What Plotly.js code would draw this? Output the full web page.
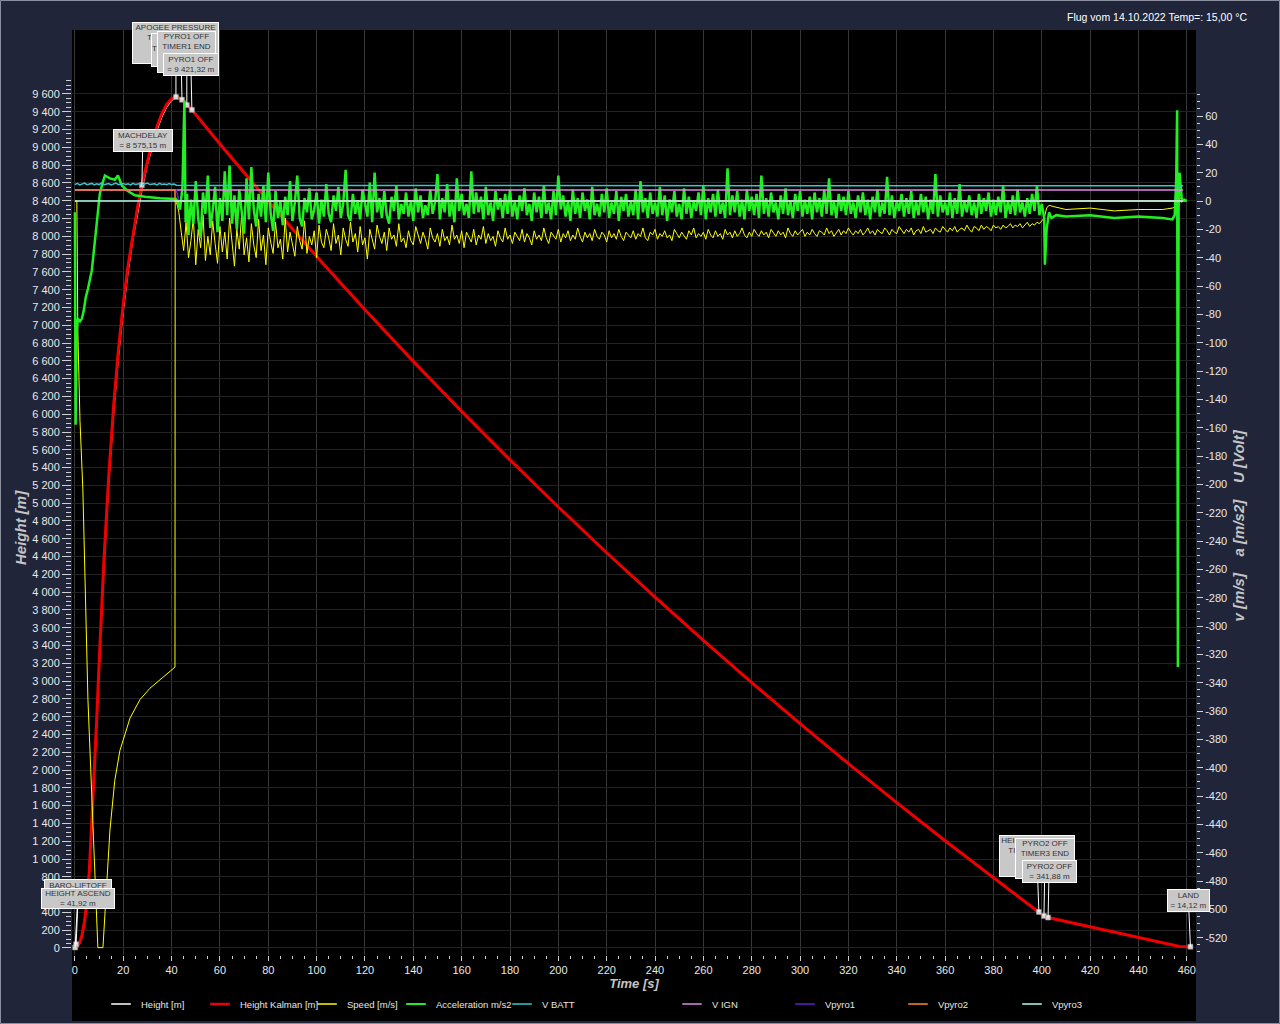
<!DOCTYPE html>
<html>
<head>
<meta charset="utf-8">
<script src="https://cdn.plot.ly/plotly-3.0.1.min.js"></script>
<style>
html,body{margin:0;padding:0;background:#20253a;}
#chart{width:1280px;height:1024px;}
</style>
</head>
<body>
<div id="chart"></div>
<script>
// ---------------- DATA ----------------
// Height (raw barometric) [m]
const heightT = [0,1,2,3,4,5,6,7,8,9,10,12,14,16,18,20,22,24,26,28,30,32,34,36,38,40,42,44,46,48,50,60,70,80,90,100,110,120,130,140,150,160,170,180,190,200,210,220,230,240,250,260,270,280,290,300,310,320,330,340,350,360,370,380,390,398,401,403,410,420,430,440,450,455,457,461];
const heightV = [0,10,50,140,290,520,860,1350,1900,2500,3150,4250,5210,5990,6630,7150,7590,7960,8270,8550,8800,9010,9190,9340,9450,9525,9560,9545,9490,9430,9372,9042,8710,8390,8088,7770,7478,7170,6885,6598,6308,6028,5760,5490,5218,4953,4702,4447,4190,3940,3702,3460,3218,2980,2752,2525,2295,2070,1852,1636,1418,1203,995,788,579,414,356,340,300,236,181,117,62,29,15,14];

// Height Kalman [m]
const kalmanT = [0,0.5,1,2,3,4,5,6,7,8,9,10,12,14,16,18,20,22,24,26,28,30,32,34,36,38,40,41.8,43,44.3,45.5,46.3,47.4,48.4,50,60,80,100,120,140,160,180,200,220,240,260,280,300,320,340,360,380,390,396,398.8,401,402.6,410,420,430,440,450,455,457,461.5];
const kalmanV = [0,6,15,60,150,300,540,880,1400,1950,2560,3190,4356,5306,6086,6721,7241,7671,8031,8341,8614,8854,9062,9238,9380,9484,9547,9566,9558,9535,9503,9475,9450,9421,9368,9037,8395,7774,7174,6594,6032,5487,4957,4443,3943,3457,2983,2522,2072,1633,1205,786,581,458,402,358,342,298,238,179,119,60,30,17,14];

// Speed [m/s] – boost/coast part
const speedT = [0,0.8,1.0,1.2,2.1,3.3,5.4,8.3,9.5,11.6,12.8,14.5,16.5,18.6,22.8,26.9,31,35.2,39.3,41.4,41.5,42,42.5];
const speedV = [0,0,-40,-91,-155,-204,-352,-479,-527,-527,-493,-444,-409,-388,-365,-352,-344,-338,-332,-329,0,-1,-4];
// Speed under drogue, 1 Hz samples from t = 43 s
const speedNoiseStart = 43;
const speedNoise = [
-8,-22,-35,-15,-40,-28,-12,-45,-20,-33,-10,-42,-25,-38,-14,-30,-44,-18,-36,-22,
-41,-12,-30,-46,-20,-34,-9,-38,-26,-43,-16,-31,-40,-13,-35,-24,-45,-19,-29,-37,
-15,-33,-27,-41,-12,-36,-22,-30,-39,-18,-28,-34,-14,-37,-25,-31,-21,-40,-17,-29,
-33,-20,-26,-35,-16,-30,-24,-38,-19,-27,-32,-15,-29,-23,-36,-18,-31,-26,-41,-20,
-28,-34,-17,-25,-30,-22,-35,-19,-27,-24,-32,-16,-29,-26,-33,-21,-28,-31,-18,-25,
-30,-22,-27,-34,-19,-26,-29,-23,-32,-20,-28,-25,-31,-17,-27,-24,-30,-21,-33,-22,
-26,-29,-20,-31,-24,-27,-18,-30,-23,-28,-25,-32,-21,-26,-29,-19,-27,-24,-30,-22,
-25,-28,-20,-29,-23,-26,-31,-21,-27,-24,-28,-19,-26,-30,-22,-25,-27,-20,-29,-23,
-26,-21,-28,-24,-27,-19,-25,-29,-22,-26,-23,-28,-20,-25,-27,-22,-24,-29,-21,-26,
-23,-27,-20,-25,-28,-22,-24,-26,-21,-27,-23,-25,-19,-26,-28,-22,-24,-20,-27,-23,
-25,-21,-26,-24,-28,-20,-23,-26,-22,-25,-27,-21,-24,-19,-26,-23,-25,-22,-27,-20,
-24,-26,-21,-25,-23,-27,-20,-24,-22,-26,-21,-25,-23,-19,-24,-26,-22,-25,-20,-23,
-25,-21,-24,-22,-26,-20,-23,-25,-21,-24,-22,-26,-19,-23,-25,-21,-24,-22,-20,-25,
-22,-24,-20,-23,-25,-21,-22,-24,-19,-23,-21,-25,-22,-20,-24,-21,-23,-19,-22,-24,
-21,-23,-20,-24,-22,-19,-23,-21,-24,-20,-22,-23,-19,-21,-24,-20,-22,-23,-18,-21,
-23,-20,-22,-19,-24,-21,-20,-23,-18,-22,-21,-20,-23,-19,-21,-22,-18,-20,-22,-19,
-21,-18,-22,-20,-19,-21,-17,-20,-22,-18,-19,-21,-17,-20,-18,-19,-21,-17,-19,-18,
-20,-17,-19,-18,-16,-19,-17,-18,-16,-19,-17,-15,-18,-16,-17,-15,-16,-14,-12
];
// Speed under main chute / landing
const speedPostT = [402,403,405,410,420,430,440,450,454,455.5,456.5,457.5,459,460];
const speedPostV = [-5,-3,-4,-6,-5,-7,-6,-6,-5,-4,0,2,1,0];

// Acceleration m/s2 – boost/coast part
const accT = [0,0.3,0.6,0.8,1.2,2.1,2.9,3.7,4.5,5.4,7,8.7,10.3,11.2,12.4,14.5,16.5,17.8,19.4,21.9,24.8,29,35.2,41.8,42.5,43.5,44.5,45.3,45.8,46.4];
const accV = [-8,-158,-112,-91,-83,-85,-83,-77,-68,-62,-49,-20,5,11,18,16,15,18,11,7,4,3,2,1.5,0,-6,10,71,-15,5];
// Acceleration under drogue, 1 Hz samples from t = 47 s
const accNoiseStart = 47;
const accNoise = [
-24,1,-16,14,-12,-26,6,-9,18,-19,-7,10,-22,2,-14,21,-10,25,-16,4,
-20,8,-8,-23,16,-13,24,-6,-18,5,-11,11,-15,20,-9,-21,7,-12,0,-17,
3,-10,14,-14,-1,18,-12,-18,2,-8,9,-13,-6,6,-16,1,-11,12,-9,-15,
4,-7,10,-12,-2,22,-10,-14,5,-9,0,-13,8,-1,-11,13,-15,20,-8,2,
-12,7,-10,-16,3,-7,11,-13,-2,-9,6,-11,0,-14,9,-8,4,-12,-3,-10,
8,-9,-1,19,-13,2,-8,12,-11,1,-15,16,-7,5,-10,-2,-12,21,-9,6,
-8,3,-13,10,-10,-1,-14,7,-6,2,-12,5,-9,8,-11,0,-13,4,-7,9,
-10,-2,-14,6,-8,3,-12,11,-9,-1,-13,7,-10,18,-6,4,-11,0,-14,8,
-9,2,-12,6,-7,1,-13,10,-10,-2,-11,5,-8,9,-12,-1,-9,7,-14,3,
-7,5,-11,0,-10,8,-13,14,-8,2,-12,6,-9,-1,-11,10,-10,4,-14,1,
-8,7,-11,-2,-13,9,-9,3,-12,0,-7,6,-10,11,-13,2,-8,5,-11,8,
-9,-1,-12,23,-10,4,-8,7,-11,1,-13,8,-7,3,-10,5,-12,18,-9,2,
-11,6,-8,-1,-13,4,-9,9,-10,0,-12,5,-7,7,-11,1,-9,3,-13,6,
-8,2,-11,8,-9,16,-10,0,-12,5,-7,3,-10,7,-9,-1,-12,4,-8,6,
-10,1,-13,3,-8,8,-11,-1,-9,17,-10,4,-12,0,-7,5,-11,2,-9,7,
-12,0,-10,5,-8,3,-13,1,-9,19,-11,4,-8,-1,-10,6,-12,2,-9,12,
-11,0,-8,4,-10,-1,-12,5,-9,2,-7,6,-11,1,-10,3,-8,11,-12,0,
-9,4,-10,8,-8,-1,-11,2,-9,5,-7,11,-10,-2,-12
];
// Acceleration after main deployment / landing
const accPostT = [401.3,402,403,404,406,410,420,430,440,450,454,455,455.6,456,456.3,456.6,457,457.5,458,459,460];
const accPostV = [-45,-20,-8,-12,-10,-11,-10,-12,-11,-12,-13,-10,15,64,-329,-5,20,8,0,1,0];

// Voltages [Volt]
const vbattT = [0,1,2,3,4,5,6,7,8,9,10,11,12,13,14,15,16,17,18,19,20,21,22,23,24,25,26,27,28,29,30,31,32,33,34,35,36,37,38,39,40,41,42,50,100,150,200,250,300,350,400,458.5];
const vbattV = [11.6,12.5,11.4,11.9,12.6,11.5,11.8,12.4,11.3,12.1,11.6,12.7,11.5,11.9,12.3,11.4,12.0,12.6,11.5,11.8,12.4,11.6,12.1,11.4,12.5,11.7,11.9,12.3,11.5,12.0,12.6,11.6,11.8,12.2,11.4,12.4,11.7,12.0,11.5,12.3,11.6,11.9,11.2,11.0,10.9,10.8,10.9,10.8,10.8,10.9,10.8,10.8];
const vignT = [0,42,458.5];
const vignV = [7.7,7.7,7.7];
const vpyro1T = [0,42.0,43.0,458.5];
const vpyro1V = [7.7,7.7,0,0];
const vpyro2T = [0,41.4,41.45,458.5];
const vpyro2V = [7.7,7.7,0,0];
const vpyro3T = [0,458.5];
const vpyro3V = [0,0];

// Flight events
const eventNames = [
  'BARO-LIFTOFF<br>TIMER0 START',
  'HEIGHT ASCEND<br>= 41,92 m',
  'MACHDELAY<br>= 8 575,15 m',
  'APOGEE PRESSURE<br>TIMER1 START<br>= 9 566,02 m',
  'PYRO1 ON<br>TIMER1 START<br>&nbsp;',
  'PYRO1 OFF<br>TIMER1 END<br>&nbsp;',
  'PYRO1 OFF<br>= 9 421,32 m',
  'HEIGHT DESCEND<br>TIMER3 START<br>&nbsp;',
  'PYRO2 OFF<br>TIMER3 END<br>&nbsp;',
  'PYRO2 OFF<br>= 341,88 m',
  'LAND<br>= 14,12 m'
];
const eventT = [0.1, 0.5, 27.7, 41.8, 44.3, 46.3, 48.4, 398.8, 400.9, 402.6, 461.5];
const eventH = [5, 41.92, 8575.15, 9566, 9535, 9475, 9421.32, 405, 360, 341.88, 14.12];

// Axis ticks
const xTickVals = [0,20,40,60,80,100,120,140,160,180,200,220,240,260,280,300,320,340,360,380,400,420,440,460];
const yTickMax = 9600, yTickStep = 200, yMinorStep = 50;
const y2TickMin = -520, y2TickMax = 60, y2TickStep = 20, y2MinorStep = 5;

const chartTitle = 'Flug vom 14.10.2022 Temp=: 15,00 °C';
const xTitle = 'Time [s]';
const yTitle = 'Height [m]';
const y2Title = 'v [m/s]&nbsp;&nbsp;&nbsp;&nbsp;a [m/s2]&nbsp;&nbsp;&nbsp;&nbsp;U [Volt]';

// ---------------- STYLE / LAYOUT CONFIG ----------------
const FONT = 'Liberation Sans, Arial, sans-serif';
const seriesStyle = [
  {name: 'Height [m]',        color: '#ffffff', width: 1,   axis: 'y'},
  {name: 'Height Kalman [m]', color: '#ee0000', width: 3,   axis: 'y'},
  {name: 'Speed [m/s]',       color: '#ffff00', width: 1,   axis: 'y2'},
  {name: 'Acceleration m/s2', color: '#22ee22', width: 2.5, axis: 'y2'},
  {name: 'V BATT',            color: '#33c8d0', width: 1.5, axis: 'y2'},
  {name: 'V IGN',             color: '#dd88e8', width: 1.5, axis: 'y2'},
  {name: 'Vpyro1',            color: '#6020d0', width: 1.5, axis: 'y2'},
  {name: 'Vpyro2',            color: '#ff8830', width: 1.5, axis: 'y2'},
  {name: 'Vpyro3',            color: '#b0fff0', width: 1.5, axis: 'y2'}
];
// legend text start positions (px)
const legendTextPx = [141, 240, 347, 436, 542, 712, 825, 938, 1052];
// box placement for each event label: offset of box centre from the event point (px), box size
const eventBoxes = [
  {ax: 3, ay: -57, w: 66, h: 21, valign: 'middle'},
  {ax: 2, ay: -46, w: 72, h: 19, valign: 'middle'},
  {ax: 1, ay: -45, w: 58, h: 21, valign: 'middle'},
  {ax: 0, ay: -54, w: 85, h: 40, valign: 'top'},
  {ax: -1, ay: -50, w: 57, h: 32, valign: 'top'},
  {ax: 0, ay: -53, w: 57, h: 40, valign: 'top'},
  {ax: -1, ay: -45, w: 54, h: 21, valign: 'middle'},
  {ax: -2, ay: -56, w: 74, h: 40, valign: 'top'},
  {ax: 1, ay: -57, w: 58, h: 39, valign: 'top'},
  {ax: 1, ay: -46, w: 53, h: 21, valign: 'middle'},
  {ax: -2, ay: -46, w: 41, h: 21, valign: 'middle'}
];
const PLOT = {l: 72, r: 1196, t: 30, b: 955};
const PW = PLOT.r - PLOT.l, PH = PLOT.b - PLOT.t;
const px2paperX = (px) => (px - PLOT.l) / PW;
const px2paperY = (py) => (PLOT.b - py) / PH;

function seq(start, n) { return Array.from({length: n}, (_, i) => start + i); }
function fmtThousands(v) { return String(v).replace(/\B(?=(\d{3})+(?!\d))/g, ' '); }

const speedX = speedT.concat(seq(speedNoiseStart, speedNoise.length), speedPostT);
const speedY = speedV.concat(speedNoise, speedPostV);
const accX = accT.concat(seq(accNoiseStart, accNoise.length), accPostT);
const accY = accV.concat(accNoise, accPostV);

const seriesData = [
  [heightT, heightV], [kalmanT, kalmanV], [speedX, speedY], [accX, accY],
  [vbattT, vbattV], [vignT, vignV], [vpyro1T, vpyro1V], [vpyro2T, vpyro2V], [vpyro3T, vpyro3V]
];

const yTickVals = [];
for (let v = 0; v <= yTickMax; v += yTickStep) yTickVals.push(v);
const yMinor = [];
for (let v = 0; v <= yTickMax + 150; v += yMinorStep) if (v % yTickStep) yMinor.push(v);
const y2TickVals = [];
for (let v = y2TickMin; v <= y2TickMax; v += y2TickStep) y2TickVals.push(v);
const y2Minor = [];
for (let v = y2TickMin - 15; v <= y2TickMax + 15; v += y2MinorStep) if (v % y2TickStep) y2Minor.push(v);

const legendId = (i) => (i === 0 ? 'legend' : 'legend' + (i + 1));

const traces = [];
// data lines
seriesStyle.forEach((s, i) => {
  traces.push({
    name: s.name, x: seriesData[i][0], y: seriesData[i][1], mode: 'lines',
    line: {color: s.color, width: s.width}, yaxis: s.axis, showlegend: false, hoverinfo: 'skip'
  });
});
// event markers
traces.push({name: 'events', x: eventT, y: eventH, mode: 'markers', yaxis: 'y', showlegend: false, hoverinfo: 'skip',
  marker: {symbol: 'square', size: 5, color: '#d4d4d4', line: {color: '#909090', width: 0.5}}});
// legend entries (short line keys like the reference)
seriesStyle.forEach((s, i) => {
  traces.push({
    name: s.name, x: [null], y: [null], mode: 'markers', yaxis: s.axis, legend: legendId(i),
    showlegend: true, hoverinfo: 'skip',
    marker: {symbol: 'line-ew', size: 14, color: s.color, line: {color: s.color, width: Math.max(1.5, s.width - 0.5)}}
  });
});

const annotations = eventNames.map((txt, i) => ({
  x: eventT[i], y: eventH[i], xref: 'x', yref: 'y', text: txt,
  showarrow: true, arrowhead: 0, arrowwidth: 1, arrowcolor: '#ffffff', standoff: 0,
  ax: eventBoxes[i].ax, ay: eventBoxes[i].ay,
  width: eventBoxes[i].w, height: eventBoxes[i].h, valign: eventBoxes[i].valign, align: 'center',
  bgcolor: '#c8c8c8', bordercolor: '#ffffff', borderwidth: 1, borderpad: 0,
  font: {family: FONT, size: 8, color: '#333333'}
}));
annotations.push({
  xref: 'paper', yref: 'paper', x: px2paperX(1249), y: px2paperY(17),
  xanchor: 'right', yanchor: 'middle', showarrow: false, text: chartTitle,
  font: {family: FONT, size: 10.5, color: '#ffffff'}
});

const tickColor = '#d0d0d0';
const titleFont = (s) => ({family: FONT, size: s, color: '#c4c4c4', weight: 'bold', style: 'italic'});
const padTitle = (txt, n) => txt + '&nbsp;'.repeat(n);

const layout = {
  width: 1280, height: 1024,
  margin: {l: PLOT.l, r: 1280 - PLOT.r, t: PLOT.t, b: 1024 - PLOT.b, pad: 0, autoexpand: false},
  paper_bgcolor: '#20253a', plot_bgcolor: '#000000',
  separators: ', ',
  font: {family: FONT, color: '#e8e8e8', size: 11},
  hovermode: false,
  showlegend: true,
  xaxis: {
    range: [-1.2, 463.8], tickmode: 'array', tickvals: xTickVals,
    ticks: 'outside', ticklen: 5, tickcolor: tickColor, tickwidth: 1,
    showgrid: true, gridcolor: '#363636', gridwidth: 1, zeroline: false, showline: false,
    tickfont: {family: FONT, size: 11, color: '#e8e8e8'},
    minor: {dtick: 5, ticks: 'outside', ticklen: 3, tickcolor: tickColor, showgrid: false},
    title: {text: xTitle, font: titleFont(13), standoff: 3}
  },
  yaxis: {
    range: [-79, 10319], tickmode: 'array', tickvals: yTickVals, ticktext: yTickVals.map(fmtThousands),
    ticks: 'outside', ticklen: 9, tickcolor: tickColor, tickwidth: 1,
    showgrid: true, gridcolor: '#222222', gridwidth: 1, zeroline: false, showline: false,
    tickfont: {family: FONT, size: 11, color: '#e8e8e8'},
    minor: {tickmode: 'array', tickvals: yMinor, ticks: 'outside', ticklen: 5, tickcolor: tickColor, showgrid: false},
    title: {text: padTitle(yTitle, 17), font: titleFont(15), standoff: 2}
  },
  yaxis2: {
    overlaying: 'y', side: 'right', anchor: 'x',
    range: [-532.2, 120.7], tickmode: 'array', tickvals: y2TickVals, ticktext: y2TickVals.map(String),
    ticks: 'outside', ticklen: 6, tickcolor: tickColor, tickwidth: 1,
    showgrid: false, zeroline: false, showline: false,
    tickfont: {family: FONT, size: 11, color: '#e8e8e8'},
    minor: {tickmode: 'array', tickvals: y2Minor, ticks: 'outside', ticklen: 3, tickcolor: tickColor, showgrid: false},
    title: {text: padTitle(y2Title, 16), font: titleFont(15), standoff: 7}
  },
  annotations: annotations,
  shapes: [
    {type: 'rect', xref: 'paper', yref: 'paper', x0: 0, x1: 1, y0: px2paperY(1021), y1: 0,
     fillcolor: '#000000', line: {width: 0}, layer: 'below'},
    {type: 'rect', xref: 'paper', yref: 'paper', x0: px2paperX(0.5), x1: px2paperX(1279.5),
     y0: px2paperY(1023.5), y1: px2paperY(0.5), fillcolor: 'rgba(0,0,0,0)',
     line: {color: '#8a90a0', width: 1}, layer: 'below'}
  ]
};
seriesStyle.forEach((s, i) => {
  layout[legendId(i)] = {
    orientation: 'h', xanchor: 'left', yanchor: 'middle',
    x: px2paperX(legendTextPx[i] - 40), y: px2paperY(1004),
    bgcolor: 'rgba(0,0,0,0)', borderwidth: 0, itemwidth: 30,
    font: {family: FONT, size: 9.5, color: '#e6e6e6'}, itemclick: false, itemdoubleclick: false
  };
});

Plotly.newPlot('chart', traces, layout, {displayModeBar: false, staticPlot: true});
</script>
</body>
</html>
